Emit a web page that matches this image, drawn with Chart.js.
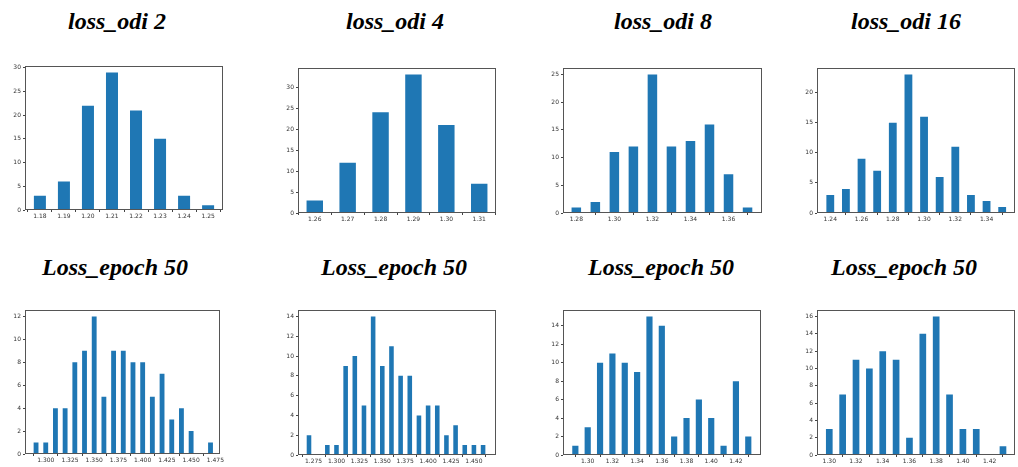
<!DOCTYPE html>
<html>
<head>
<meta charset="utf-8">
<script src="https://cdn.jsdelivr.net/npm/chart.js@4.4.0/dist/chart.umd.min.js"></script>
<style>
    body { margin: 0; background: #fff; width: 1018px; height: 467px; overflow: hidden; position: relative; }
    .title { position: absolute; font-family: "Liberation Serif", "Times New Roman", serif; font-weight: bold; font-style: italic; font-size: 24px; line-height: 24px; white-space: nowrap; transform: translateX(-50%); color: #000; }
    canvas { position: absolute; }
</style>
</head>
<body>
<script>
// histogram data: bin centres and counts
const odi2X = [1.18, 1.19, 1.20, 1.21, 1.22, 1.23, 1.24, 1.25];
const odi2Y = [3, 6, 22, 29, 21, 15, 3, 1];
const odi4X = [1.26, 1.27, 1.28, 1.29, 1.30, 1.31];
const odi4Y = [3, 12, 24, 33, 21, 7];
const odi8X = [1.28, 1.29, 1.30, 1.31, 1.32, 1.33, 1.34, 1.35, 1.36, 1.37];
const odi8Y = [1, 2, 11, 12, 25, 12, 13, 16, 7, 1];
const odi16X = [1.24, 1.25, 1.26, 1.27, 1.28, 1.29, 1.30, 1.31, 1.32, 1.33, 1.34, 1.35];
const odi16Y = [3, 4, 9, 7, 15, 23, 16, 6, 11, 3, 2, 1];

const epochAX = [1.29, 1.30, 1.31, 1.32, 1.33, 1.34, 1.35, 1.36, 1.37, 1.38, 1.39, 1.40, 1.41, 1.42, 1.43, 1.44, 1.45, 1.46, 1.47];
const epochAY = [1, 1, 4, 4, 8, 9, 12, 5, 9, 9, 8, 8, 5, 7, 3, 4, 2, 0, 1];
const epochBX = [1.27, 1.28, 1.29, 1.30, 1.31, 1.32, 1.33, 1.34, 1.35, 1.36, 1.37, 1.38, 1.39, 1.40, 1.41, 1.42, 1.43, 1.44, 1.45, 1.46];
const epochBY = [2, 0, 1, 1, 9, 10, 5, 14, 9, 11, 8, 8, 4, 5, 5, 2, 3, 1, 1, 1];
const epochCX = [1.29, 1.30, 1.31, 1.32, 1.33, 1.34, 1.35, 1.36, 1.37, 1.38, 1.39, 1.40, 1.41, 1.42, 1.43];
const epochCY = [1, 3, 10, 11, 10, 9, 15, 14, 2, 4, 6, 4, 1, 8, 2];
const epochDX = [1.30, 1.31, 1.32, 1.33, 1.34, 1.35, 1.36, 1.37, 1.38, 1.39, 1.40, 1.41, 1.42, 1.43];
const epochDY = [3, 7, 11, 10, 12, 11, 2, 14, 16, 7, 3, 3, 0, 1];

// tick labels
const odi2XTicks = [1.18, 1.19, 1.20, 1.21, 1.22, 1.23, 1.24, 1.25];
const odi4XTicks = [1.26, 1.27, 1.28, 1.29, 1.30, 1.31];
const odi8XTicks = [1.28, 1.30, 1.32, 1.34, 1.36];
const odi16XTicks = [1.24, 1.26, 1.28, 1.30, 1.32, 1.34];
const epochABXTicksA = [1.300, 1.325, 1.350, 1.375, 1.400, 1.425, 1.450, 1.475];
const epochABXTicksB = [1.275, 1.300, 1.325, 1.350, 1.375, 1.400, 1.425, 1.450];
const epochCDXTicks = [1.30, 1.32, 1.34, 1.36, 1.38, 1.40, 1.42];
const yTicks30 = [0, 5, 10, 15, 20, 25, 30];
const yTicks25 = [0, 5, 10, 15, 20, 25];
const yTicks20 = [0, 5, 10, 15, 20];
const yTicks12 = [0, 2, 4, 6, 8, 10, 12];
const yTicks14 = [0, 2, 4, 6, 8, 10, 12, 14];
const yTicks16 = [0, 2, 4, 6, 8, 10, 12, 14, 16];

const titles = ['loss_odi 2', 'loss_odi 4', 'loss_odi 8', 'loss_odi 16',
    'Loss_epoch 50', 'Loss_epoch 50', 'Loss_epoch 50', 'Loss_epoch 50'];

// frame = plot box in page pixels, xr = x axis limits
const panels = [
    { x: odi2X, y: odi2Y, xt: odi2XTicks, yt: yTicks30, dec: 2, xr: [1.1738, 1.2562], frame: [25, 63, 198, 147], tx: 117, ty: 9 },
    { x: odi4X, y: odi4Y, xt: odi4XTicks, yt: yTicks30, dec: 2, xr: [1.2549, 1.3151], frame: [298, 65, 198, 148], tx: 395, ty: 9 },
    { x: odi8X, y: odi8Y, xt: odi8XTicks, yt: yTicks25, dec: 2, xr: [1.2730, 1.3776], frame: [563, 65, 199, 148], tx: 663, ty: 9 },
    { x: odi16X, y: odi16Y, xt: odi16XTicks, yt: yTicks20, dec: 2, xr: [1.2315, 1.3582], frame: [817, 65, 198, 148], tx: 906, ty: 9 },
    { x: epochAX, y: epochAY, xt: epochABXTicksA, yt: yTicks12, dec: 3, xr: [1.2786, 1.4803], frame: [25, 307, 198, 147], tx: 115, ty: 255 },
    { x: epochBX, y: epochBY, xt: epochABXTicksB, yt: yTicks14, dec: 3, xr: [1.2580, 1.4741], frame: [298, 307, 198, 148], tx: 394, ty: 255 },
    { x: epochCX, y: epochCY, xt: epochCDXTicks, yt: yTicks14, dec: 2, xr: [1.2800, 1.4403], frame: [563, 307, 198, 148], tx: 661, ty: 255 },
    { x: epochDX, y: epochDY, xt: epochCDXTicks, yt: yTicks16, dec: 2, xr: [1.2908, 1.4390], frame: [817, 307, 198, 148], tx: 904, ty: 255 }
];

const PAD_L = 22, PAD_T = 3, PAD_R = 2, PAD_B = 16;

// matplotlib style box round the plot area
const framePlugin = {
    id: 'frame',
    afterDraw(chart) {
        const a = chart.chartArea;
        const ctx = chart.ctx;
        ctx.save();
        ctx.strokeStyle = '#555';
        ctx.lineWidth = 1;
        ctx.strokeRect(Math.round(a.left) + 0.5, Math.round(a.top) + 0.5, Math.round(a.right - a.left) - 1, Math.round(a.bottom - a.top) - 1);
        ctx.restore();
    }
};

panels.forEach((p, i) => {
    const t = document.createElement('div');
    t.className = 'title';
    t.textContent = titles[i];
    t.style.left = p.tx + 'px';
    t.style.top = p.ty + 'px';
    document.body.appendChild(t);

    const [fx, fy, fw, fh] = p.frame;
    const canvas = document.createElement('canvas');
    canvas.width = fw + PAD_L + PAD_R;
    canvas.height = fh + PAD_T + PAD_B;
    canvas.style.left = (fx - PAD_L) + 'px';
    canvas.style.top = (fy - PAD_T) + 'px';
    document.body.appendChild(canvas);

    const ymax = Math.max(...p.y) * 1.05;
    const tickFont = { family: '"DejaVu Sans", sans-serif', size: 6 };

    new Chart(canvas, {
        type: 'bar',
        data: {
            datasets: [{
                data: p.x.map((v, k) => ({ x: v, y: p.y[k] })),
                backgroundColor: '#1f77b4',
                borderWidth: 0,
                categoryPercentage: 1.0,
                barPercentage: 0.5
            }]
        },
        options: {
            responsive: false,
            animation: false,
            devicePixelRatio: 1,
            layout: { padding: { left: 0, top: PAD_T, right: PAD_R, bottom: 0 } },
            plugins: { legend: { display: false }, tooltip: { enabled: false } },
            scales: {
                x: {
                    type: 'linear',
                    min: p.xr[0],
                    max: p.xr[1],
                    offset: false,
                    border: { display: false },
                    grid: { drawOnChartArea: false, drawTicks: true, tickLength: 2, color: '#444' },
                    ticks: {
                        font: tickFont, color: '#333', padding: 1, maxRotation: 0, autoSkip: false,
                        callback: v => v.toFixed(p.dec)
                    },
                    afterBuildTicks: s => { s.ticks = p.xt.map(v => ({ value: v })); },
                    afterFit: s => { s.height = PAD_B; }
                },
                y: {
                    min: 0,
                    max: ymax,
                    border: { display: false },
                    grid: { drawOnChartArea: false, drawTicks: true, tickLength: 2, color: '#444' },
                    ticks: { font: tickFont, color: '#333', padding: 2 },
                    afterBuildTicks: s => { s.ticks = p.yt.map(v => ({ value: v })); },
                    afterFit: s => { s.width = PAD_L; }
                }
            }
        },
        plugins: [framePlugin]
    });
});
</script>
</body>
</html>
